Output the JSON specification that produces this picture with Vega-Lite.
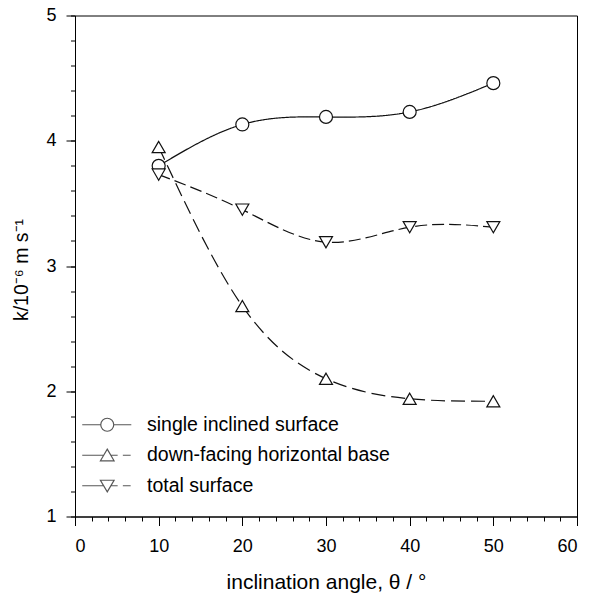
{
  "$schema": "https://vega.github.io/schema/vega-lite/v6.json",
  "width": 502,
  "height": 501,
  "autosize": "none",
  "padding": {"left": 75, "top": 15.5, "right": 24, "bottom": 79.5},
  "background": "white",
  "config": {
    "view": {"stroke": "#000", "strokeWidth": 1},
    "font": "Liberation Sans",
    "axis": {"domainColor": "#000", "tickColor": "#000", "labelColor": "#000", "titleColor": "#000", "grid": false, "labelFontSize": 18, "titleFontSize": 19.5, "titleFontWeight": "normal", "labelFont": "Liberation Sans", "titleFont": "Liberation Sans"},
    "legend": {"labelFont": "Liberation Sans"}
  },
  "data": {
    "values": [
      {"angle": 10, "k": 3.80, "series": "single inclined surface"},
      {"angle": 20, "k": 4.13, "series": "single inclined surface"},
      {"angle": 30, "k": 4.19, "series": "single inclined surface"},
      {"angle": 40, "k": 4.23, "series": "single inclined surface"},
      {"angle": 50, "k": 4.46, "series": "single inclined surface"},
      {"angle": 10, "k": 3.95, "series": "down-facing horizontal base"},
      {"angle": 20, "k": 2.68, "series": "down-facing horizontal base"},
      {"angle": 30, "k": 2.10, "series": "down-facing horizontal base"},
      {"angle": 40, "k": 1.94, "series": "down-facing horizontal base"},
      {"angle": 50, "k": 1.92, "series": "down-facing horizontal base"},
      {"angle": 10, "k": 3.73, "series": "total surface"},
      {"angle": 20, "k": 3.45, "series": "total surface"},
      {"angle": 30, "k": 3.19, "series": "total surface"},
      {"angle": 40, "k": 3.31, "series": "total surface"},
      {"angle": 50, "k": 3.31, "series": "total surface"}
    ]
  },
  "layer": [
    {
      "mark": {"type": "line", "interpolate": "natural", "color": "#111", "strokeWidth": 1.2},
      "encoding": {
        "x": {"field": "angle", "type": "quantitative", "scale": {"domain": [0, 60], "nice": false, "zero": false},
          "axis": {"orient": "bottom", "values": [0, 10, 20, 30, 40, 50, 60], "tickSize": 9, "labelPadding": 12, "title": "inclination angle, θ / °", "titlePadding": 16, "titleFontSize": 21}},
        "y": {"field": "k", "type": "quantitative", "scale": {"domain": [1, 5], "nice": false, "zero": false},
          "axis": {"orient": "left", "values": [1, 2, 3, 4, 5], "tickSize": 9, "labelPadding": 10, "title": "k/10⁻⁶ m s⁻¹", "titlePadding": 14, "titleY": 254}},
        "detail": {"field": "series"},
        "strokeDash": {"field": "series", "type": "nominal",
          "scale": {"domain": ["single inclined surface", "down-facing horizontal base", "total surface"], "range": [[1, 0], [14, 6], [12, 5]]},
          "legend": null}
      }
    },
    {
      "mark": {"type": "point", "filled": true, "fill": "white", "stroke": "#111", "strokeWidth": 1.2, "size": 169, "opacity": 1},
      "encoding": {
        "x": {"field": "angle", "type": "quantitative",
          "axis": {"orient": "bottom", "values": [0, 2, 4, 6, 8, 10, 12, 14, 16, 18, 20, 22, 24, 26, 28, 30, 32, 34, 36, 38, 40, 42, 44, 46, 48, 50, 52, 54, 56, 58, 60], "tickSize": 4.5, "labels": false, "domain": false, "title": null}},
        "y": {"field": "k", "type": "quantitative",
          "axis": {"orient": "left", "values": [1, 1.2, 1.4, 1.6, 1.8, 2, 2.2, 2.4, 2.6, 2.8, 3, 3.2, 3.4, 3.6, 3.8, 4, 4.2, 4.4, 4.6, 4.8, 5], "tickSize": 4.5, "labels": false, "domain": false, "title": null}},
        "shape": {"field": "series", "type": "nominal",
          "scale": {"domain": ["single inclined surface", "down-facing horizontal base", "total surface"], "range": ["circle", "triangle-up", "triangle-down"]},
          "legend": null}
      }
    },
    {
      "transform": [{"filter": "false"}],
      "mark": {"type": "point", "filled": false, "color": "#111", "strokeWidth": 1.2},
      "encoding": {
        "shape": {"field": "series", "type": "nominal",
          "scale": {"domain": ["single inclined surface", "down-facing horizontal base", "total surface"],
            "range": [
              "M-3.85,0L-1,0M1,0A1,1 0 1,1 -1,0A1,1 0 1,1 1,0M1,0L3.7,0",
              "M-3.85,0L-0.556,0M0,-0.95L1.05,0.85L-1.05,0.85ZM0.556,0L1.6,0M2.4,0L3.6,0",
              "M-3.85,0L-0.556,0M0,0.95L1.05,-0.85L-1.05,-0.85ZM0.556,0L1.6,0M2.4,0L3.6,0"
            ]},
          "legend": {"title": null, "orient": "none", "legendX": 22.5, "legendY": 399.5, "padding": 0, "symbolSize": 169, "symbolStrokeWidth": 1.2, "symbolStrokeColor": "#111", "symbolFillColor": "transparent", "labelFontSize": 19.5, "labelColor": "#000", "labelOffset": 30, "rowPadding": 9.5, "labelLimit": 400}}
      }
    }
  ],
  "resolve": {"axis": {"x": "independent", "y": "independent"}, "scale": {"shape": "independent"}}
}
